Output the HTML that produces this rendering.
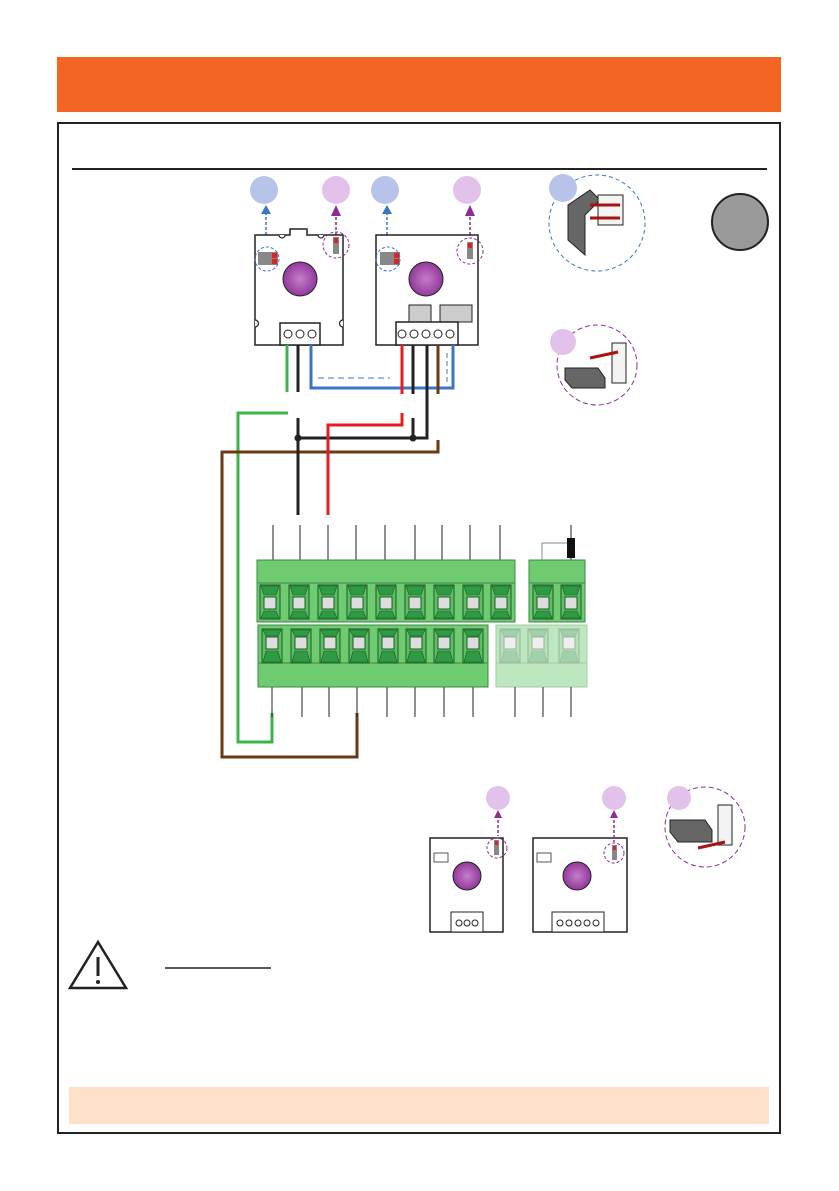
<!DOCTYPE html>
<html><head><meta charset="utf-8"><style>body{margin:0;background:#fff}svg{display:block}</style></head><body>
<svg width="839" height="1191" viewBox="0 0 839 1191" xmlns="http://www.w3.org/2000/svg" font-family="Liberation Sans, sans-serif">
<defs>
<radialGradient id="pu" cx="0.5" cy="0.5" r="0.6"><stop offset="0" stop-color="#c37fc9"/><stop offset="1" stop-color="#8a2a92"/></radialGradient>
<g id="cellT"><rect x="0" y="0" width="20" height="34" fill="#5cbf62" stroke="#1d5a28"/><polygon points="1,1 19,1 16,10 4,10" fill="#2e9a44" stroke="#1d5a28" stroke-width="0.6"/><polygon points="1,33 19,33 16,26 4,26" fill="#2e9a44" stroke="#1d5a28" stroke-width="0.6"/><rect x="4" y="12" width="12" height="12" fill="#ddd" stroke="#1d5a28"/></g>
<g id="cellB"><rect x="0" y="0" width="20" height="34" fill="#5cbf62" stroke="#1d5a28"/><polygon points="1,33 19,33 16,22 4,22" fill="#2e9a44" stroke="#1d5a28" stroke-width="0.6"/><polygon points="1,1 19,1 16,7 4,7" fill="#2e9a44" stroke="#1d5a28" stroke-width="0.6"/><rect x="4" y="8" width="12" height="12" fill="#ddd" stroke="#1d5a28"/></g>
</defs>
<rect x="57" y="57" width="724" height="55" fill="#f26522"/>
<rect x="58" y="123" width="722" height="1010" fill="none" stroke="#222" stroke-width="2"/>
<line x1="72" y1="169" x2="767" y2="169" stroke="#222" stroke-width="2"/>
<circle cx="264" cy="190" r="14" fill="#b8c3ea"/>
<circle cx="336" cy="190" r="14" fill="#e2c2ea"/>
<circle cx="385" cy="190" r="14" fill="#b8c3ea"/>
<circle cx="467" cy="190" r="14" fill="#e2c2ea"/>
<circle cx="740" cy="222" r="28" fill="#9a9a9a" stroke="#222" stroke-width="2"/>
<g stroke-dasharray="3,2" stroke-width="1.5" fill="none">
<line x1="266" y1="212" x2="266" y2="252" stroke="#3a74c4"/><line x1="387" y1="212" x2="387" y2="252" stroke="#3a74c4"/>
<line x1="336" y1="212" x2="336" y2="236" stroke="#8e2b98"/><line x1="470" y1="212" x2="470" y2="240" stroke="#8e2b98"/>
</g>
<polygon points="261,214 271,214 266,205" fill="#3a74c4"/><polygon points="382,214 392,214 387,205" fill="#3a74c4"/>
<polygon points="331,216 341,216 336,205" fill="#8e2b98"/><polygon points="465,216 475,216 470,205" fill="#8e2b98"/>
<path d="M255,235 H290 V229 H307 V235 H343 V345 H255 Z" fill="#fff" stroke="#222" stroke-width="1.5"/>
<g fill="#fff" stroke="#222" stroke-width="1.2"><path d="M279,235 a3,3 0 0 0 6,0"/><path d="M318,235 a3,3 0 0 0 6,0"/><path d="M255,320 a3,3 0 0 1 0,7"/><path d="M343,320 a3,3 0 0 0 0,7"/>
<path d="M394,235 a3,3 0 0 0 6,0"/><path d="M441,235 a3,3 0 0 0 6,0"/><path d="M376,320 a3,3 0 0 1 0,7"/><path d="M478,320 a3,3 0 0 0 0,7"/></g>
<circle cx="300" cy="279" r="17" fill="url(#pu)" stroke="#222"/>
<rect x="280" y="323" width="40" height="22" fill="#fff" stroke="#222" stroke-width="1.5"/>
<circle cx="288" cy="334" r="4" fill="none" stroke="#222"/><circle cx="300" cy="334" r="4" fill="none" stroke="#222"/><circle cx="312" cy="334" r="4" fill="none" stroke="#222"/>
<rect x="258" y="252" width="20" height="13" fill="#888"/><rect x="272" y="253" width="5" height="5" fill="#d22"/><rect x="272" y="259" width="5" height="5" fill="#d22"/>
<circle cx="267" cy="259" r="12" fill="none" stroke="#3a74c4" stroke-dasharray="3,2"/>
<rect x="333" y="237" width="6" height="17" fill="#888"/><rect x="334" y="238" width="4" height="5" fill="#d22"/>
<circle cx="336" cy="245" r="13" fill="none" stroke="#8e2b98" stroke-dasharray="3,2"/>
<path d="M376,235 H478 V345 H376 Z" fill="#fff" stroke="#222" stroke-width="1.5"/>
<circle cx="426" cy="279" r="17" fill="url(#pu)" stroke="#222"/>
<rect x="409" y="305" width="22" height="17" fill="#ccc" stroke="#222"/><rect x="440" y="305" width="32" height="17" fill="#ccc" stroke="#222"/>
<rect x="396" y="322" width="62" height="23" fill="#fff" stroke="#222" stroke-width="1.5"/>
<g fill="none" stroke="#222"><circle cx="402" cy="334" r="4"/><circle cx="414" cy="334" r="4"/><circle cx="426" cy="334" r="4"/><circle cx="438" cy="334" r="4"/><circle cx="450" cy="334" r="4"/></g>
<rect x="380" y="252" width="20" height="13" fill="#888"/><rect x="394" y="253" width="5" height="5" fill="#d22"/><rect x="394" y="259" width="5" height="5" fill="#d22"/>
<circle cx="388" cy="259" r="12" fill="none" stroke="#3a74c4" stroke-dasharray="3,2"/>
<rect x="467" y="242" width="6" height="17" fill="#888"/><rect x="468" y="243" width="4" height="5" fill="#d22"/>
<circle cx="470" cy="251" r="13" fill="none" stroke="#8e2b98" stroke-dasharray="3,2"/>
<g fill="none" stroke-width="3">
<path d="M311,345 V388 H453 V345" stroke="#3a74c4"/>
<path d="M287,345 V392" stroke="#3cb44a"/><path d="M298,345 V392" stroke="#222"/>
<path d="M402,345 V394" stroke="#e31e24"/><path d="M413,345 V394" stroke="#222"/><path d="M427,345 V438 H298" stroke="#222"/><path d="M438,345 V394" stroke="#6b3a12"/>
<path d="M288,413 H238 V742 H272 V713" stroke="#3cb44a"/>
<path d="M438,440 V452 H222 V757 H357 V713" stroke="#6b3a12"/>
<path d="M298,418 V515" stroke="#222"/><path d="M413,418 V438" stroke="#222"/>
<path d="M402,413 V425 H328 V515" stroke="#e31e24"/>
</g>
<g stroke="#3a74c4" stroke-width="1" fill="none"><path d="M318,378 H390" stroke-dasharray="6,4"/><path d="M447,382 V352" stroke-dasharray="5,3"/></g>
<circle cx="298" cy="438" r="3.5" fill="#222"/><circle cx="413" cy="438" r="3.5" fill="#222"/>
<g stroke="#222" stroke-width="1"><line x1="273" y1="525" x2="273" y2="560"/><line x1="300" y1="525" x2="300" y2="560"/><line x1="328" y1="525" x2="328" y2="560"/><line x1="356" y1="525" x2="356" y2="560"/><line x1="385" y1="525" x2="385" y2="560"/><line x1="415" y1="525" x2="415" y2="560"/><line x1="442" y1="525" x2="442" y2="560"/><line x1="470" y1="525" x2="470" y2="560"/><line x1="500" y1="525" x2="500" y2="560"/><line x1="571" y1="525" x2="571" y2="560"/>
<line x1="272" y1="687" x2="272" y2="717"/><line x1="302" y1="687" x2="302" y2="717"/><line x1="329" y1="687" x2="329" y2="717"/><line x1="357" y1="687" x2="357" y2="717"/><line x1="387" y1="687" x2="387" y2="717"/><line x1="415" y1="687" x2="415" y2="717"/><line x1="444" y1="687" x2="444" y2="717"/><line x1="473" y1="687" x2="473" y2="717"/><line x1="515" y1="687" x2="515" y2="717"/><line x1="543" y1="687" x2="543" y2="717"/><line x1="571" y1="687" x2="571" y2="717"/></g>
<path d="M542,560 V543 H568" fill="none" stroke="#888"/><rect x="567" y="538" width="8" height="20" fill="#111"/>
<rect x="257" y="560" width="258" height="62" fill="#6fcb70" stroke="#3b8a45"/><line x1="257" y1="583" x2="515" y2="583" stroke="#3b8a45"/>
<rect x="529" y="560" width="56" height="62" fill="#6fcb70" stroke="#3b8a45"/><line x1="529" y1="583" x2="585" y2="583" stroke="#3b8a45"/>
<use href="#cellT" x="260" y="585"/><use href="#cellT" x="289" y="585"/><use href="#cellT" x="318" y="585"/><use href="#cellT" x="347" y="585"/><use href="#cellT" x="376" y="585"/><use href="#cellT" x="405" y="585"/><use href="#cellT" x="434" y="585"/><use href="#cellT" x="463" y="585"/><use href="#cellT" x="491" y="585"/><use href="#cellT" x="533" y="585"/><use href="#cellT" x="561" y="585"/>
<rect x="258" y="625" width="230" height="62" fill="#6fcb70" stroke="#3b8a45"/><line x1="258" y1="663" x2="488" y2="663" stroke="#3b8a45"/>
<use href="#cellB" x="262" y="629"/><use href="#cellB" x="291" y="629"/><use href="#cellB" x="320" y="629"/><use href="#cellB" x="349" y="629"/><use href="#cellB" x="378" y="629"/><use href="#cellB" x="406" y="629"/><use href="#cellB" x="434" y="629"/><use href="#cellB" x="463" y="629"/>
<g opacity="0.45"><rect x="496" y="625" width="91" height="62" fill="#6fcb70" stroke="#3b8a45"/><line x1="496" y1="663" x2="587" y2="663" stroke="#3b8a45"/><use href="#cellB" x="500" y="629"/><use href="#cellB" x="528" y="629"/><use href="#cellB" x="559" y="629"/></g>
<circle cx="597" cy="223" r="48" fill="none" stroke="#3a74c4" stroke-dasharray="4,3"/>
<path d="M568,205 L590,190 L600,200 L585,215 L585,255 L568,240 Z" fill="#666" stroke="#222"/><rect x="598" y="195" width="25" height="30" fill="#f3f3f3" stroke="#222"/><line x1="590" y1="205" x2="620" y2="205" stroke="#a11" stroke-width="3"/><line x1="590" y1="218" x2="620" y2="218" stroke="#a11" stroke-width="3"/>
<circle cx="563" cy="188" r="14" fill="#b8c3ea"/>
<circle cx="597" cy="365" r="40" fill="none" stroke="#8e2b98" stroke-dasharray="5,3"/>
<path d="M565,368 L598,368 L605,378 L605,388 L572,388 L565,380 Z" fill="#666" stroke="#222"/><rect x="612" y="343" width="14" height="40" fill="#f3f3f3" stroke="#222"/><line x1="590" y1="358" x2="618" y2="352" stroke="#a11" stroke-width="3"/>
<circle cx="563" cy="342" r="13" fill="#e2c2ea"/>
<circle cx="498" cy="798" r="12" fill="#e2c2ea"/><circle cx="614" cy="798" r="12" fill="#e2c2ea"/>
<circle cx="705" cy="827" r="40" fill="none" stroke="#8e2b98" stroke-dasharray="5,3"/>
<path d="M670,820 L705,820 L712,830 L712,842 L678,842 L670,832 Z" fill="#666" stroke="#222"/><rect x="718" y="805" width="14" height="40" fill="#f3f3f3" stroke="#222"/><line x1="698" y1="848" x2="725" y2="842" stroke="#a11" stroke-width="3"/>
<circle cx="679" cy="798" r="12" fill="#e2c2ea"/>
<path d="M430,838 H503 V932 H430 Z" fill="#fff" stroke="#222" stroke-width="1.5"/>
<circle cx="467" cy="876" r="14" fill="url(#pu)" stroke="#222"/>
<rect x="451" y="912" width="32" height="20" fill="#fff" stroke="#222"/>
<g fill="none" stroke="#222"><circle cx="459" cy="923" r="3"/><circle cx="467" cy="923" r="3"/><circle cx="475" cy="923" r="3"/></g>
<rect x="434" y="853" width="14" height="9" fill="none" stroke="#555"/>
<rect x="494" y="840" width="5" height="15" fill="#888"/><rect x="495" y="841" width="3" height="4" fill="#d22"/>
<circle cx="497" cy="848" r="10" fill="none" stroke="#8e2b98" stroke-dasharray="3,2"/>
<line x1="498" y1="815" x2="498" y2="836" stroke="#8e2b98" stroke-dasharray="3,2" stroke-width="1.5"/><polygon points="494,818 502,818 498,810" fill="#8e2b98"/>
<path d="M533,838 H627 V932 H533 Z" fill="#fff" stroke="#222" stroke-width="1.5"/>
<circle cx="577" cy="876" r="14" fill="url(#pu)" stroke="#222"/>
<rect x="552" y="912" width="52" height="20" fill="#fff" stroke="#222"/>
<g fill="none" stroke="#222"><circle cx="560" cy="923" r="3"/><circle cx="569" cy="923" r="3"/><circle cx="578" cy="923" r="3"/><circle cx="587" cy="923" r="3"/><circle cx="596" cy="923" r="3"/></g>
<rect x="537" y="853" width="14" height="9" fill="none" stroke="#555"/>
<rect x="612" y="845" width="5" height="15" fill="#888"/><rect x="613" y="846" width="3" height="4" fill="#d22"/>
<circle cx="614" cy="853" r="10" fill="none" stroke="#8e2b98" stroke-dasharray="3,2"/>
<line x1="614" y1="815" x2="614" y2="842" stroke="#8e2b98" stroke-dasharray="3,2" stroke-width="1.5"/><polygon points="610,818 618,818 614,810" fill="#8e2b98"/>
<polygon points="98,942 126,988 70,988" fill="#fff" stroke="#222" stroke-width="2.5"/>
<line x1="98" y1="957" x2="98" y2="976" stroke="#222" stroke-width="3"/><circle cx="98" cy="982" r="2" fill="#222"/>
<line x1="165" y1="968" x2="271" y2="968" stroke="#222" stroke-width="1.5"/>
<rect x="69" y="1087" width="700" height="37" fill="#fde0c8"/>
</svg>
</body></html>
